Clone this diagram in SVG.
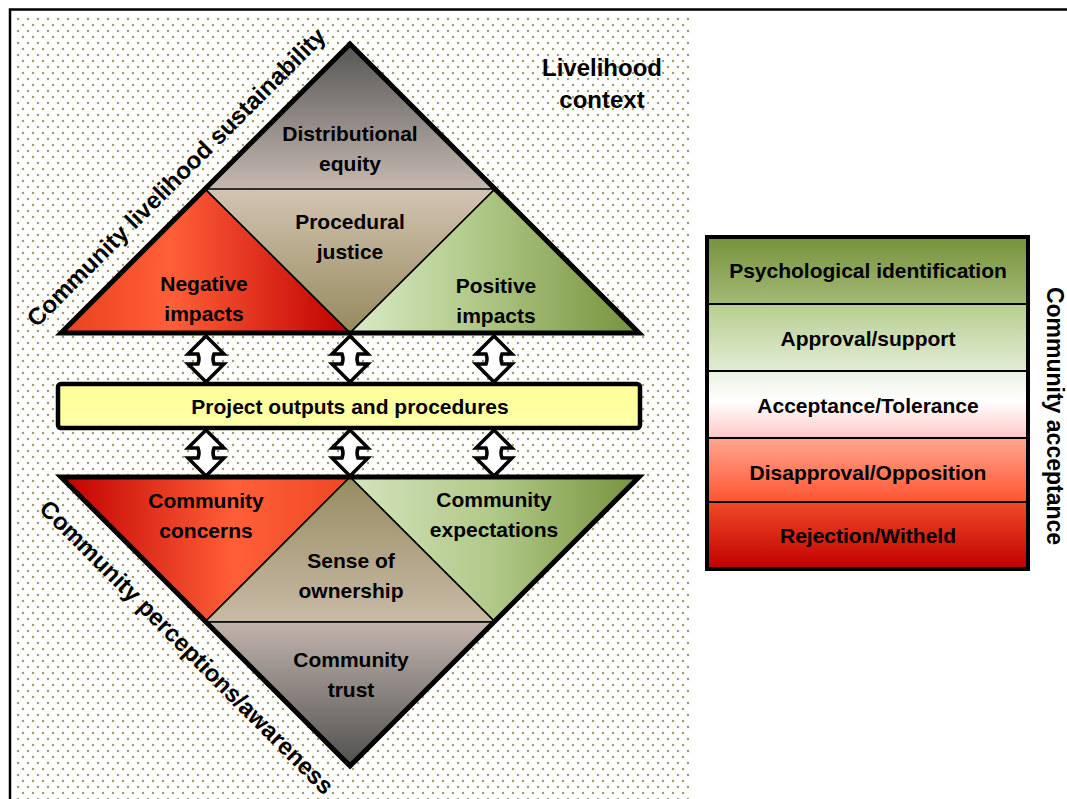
<svg xmlns="http://www.w3.org/2000/svg" width="1067" height="799" viewBox="0 0 1067 799">
<style>
.t{font-family:"Liberation Sans",Arial,sans-serif;font-weight:bold;font-size:21px;fill:#000;text-anchor:middle}
.big{font-size:24px}
.side{font-size:23px}
.lg{font-size:21px}
.outer{stroke:#000;stroke-width:5;stroke-linejoin:miter;fill:none}
.inner{stroke:#000;stroke-width:1.6;stroke-linejoin:miter}
.arr{fill:#fff;stroke:#000;stroke-width:3.5;stroke-linejoin:miter}
.row{stroke:#000;stroke-width:2}
</style>
<defs>
<pattern id="dots" width="10" height="12" patternUnits="userSpaceOnUse" x="16" y="17">
<circle cx="2" cy="2" r="1.25" fill="#a29c6e"/>
<circle cx="7" cy="8" r="1.25" fill="#a29c6e"/>
</pattern>
<linearGradient id="gDist" x1="0" y1="0" x2="0" y2="1"><stop offset="0" stop-color="#555555"/><stop offset="1" stop-color="#c6b8b0"/></linearGradient>
<linearGradient id="gProc" x1="0" y1="0" x2="0" y2="1"><stop offset="0" stop-color="#d2c4b2"/><stop offset="1" stop-color="#958a5c"/></linearGradient>
<linearGradient id="gOwn" x1="0" y1="0" x2="0" y2="1"><stop offset="0" stop-color="#968c60"/><stop offset="1" stop-color="#c9baa6"/></linearGradient>
<linearGradient id="gTrust" x1="0" y1="0" x2="0" y2="1"><stop offset="0" stop-color="#c2b4ac"/><stop offset="1" stop-color="#505050"/></linearGradient>
<linearGradient id="gNeg" x1="0" y1="0" x2="1" y2="0"><stop offset="0" stop-color="#e8401e"/><stop offset="0.38" stop-color="#ff5f38"/><stop offset="1" stop-color="#c00000"/></linearGradient>
<linearGradient id="gPos" x1="0" y1="0" x2="1" y2="0"><stop offset="0" stop-color="#dbeac8"/><stop offset="0.4" stop-color="#b4cc8c"/><stop offset="1" stop-color="#76923c"/></linearGradient>
<linearGradient id="gCon" x1="0" y1="0" x2="1" y2="0"><stop offset="0" stop-color="#c00000"/><stop offset="0.6" stop-color="#ff5f38"/><stop offset="1" stop-color="#ee4824"/></linearGradient>
<linearGradient id="gExp" x1="0" y1="0" x2="1" y2="0"><stop offset="0" stop-color="#d4e4bc"/><stop offset="0.5" stop-color="#b0c888"/><stop offset="1" stop-color="#76923c"/></linearGradient>
<linearGradient id="gBox" x1="0" y1="0" x2="0" y2="1"><stop offset="0" stop-color="#ffff99"/><stop offset="1" stop-color="#ffffa8"/></linearGradient>
<linearGradient id="gL1" x1="0" y1="0" x2="0" y2="1"><stop offset="0" stop-color="#76923c"/><stop offset="1" stop-color="#a3ba74"/></linearGradient>
<linearGradient id="gL2" x1="0" y1="0" x2="0" y2="1"><stop offset="0" stop-color="#b6ce90"/><stop offset="1" stop-color="#e2ecd4"/></linearGradient>
<linearGradient id="gL3" x1="0" y1="0" x2="0" y2="1"><stop offset="0" stop-color="#eaf1e2"/><stop offset="0.45" stop-color="#ffffff"/><stop offset="1" stop-color="#ffc8c4"/></linearGradient>
<linearGradient id="gL4" x1="0" y1="0" x2="0" y2="1"><stop offset="0" stop-color="#ffa690"/><stop offset="1" stop-color="#ff5530"/></linearGradient>
<linearGradient id="gL5" x1="0" y1="0" x2="0" y2="1"><stop offset="0" stop-color="#f04a28"/><stop offset="1" stop-color="#c00000"/></linearGradient>
</defs>

<rect x="0" y="0" width="1067" height="799" fill="#fff"/>
<rect x="16" y="17" width="674" height="782" fill="url(#dots)"/>
<path d="M10 799 V9.5 H1067" fill="none" stroke="#000" stroke-width="2.5"/>

<g id="label-sustainability"><text class="t big" transform="translate(182,183) rotate(-45)">Community livelihood sustainability</text></g>
<g id="label-perceptions"><text class="t big" transform="translate(181,653) rotate(45)">Community perceptions/awareness</text></g>
<g id="label-context"><text class="t big" x="602" y="76">Livelihood</text><text class="t big" x="602" y="108">context</text></g>

<g id="node-distributional">
<polygon points="350,44 205,189 495,189" fill="url(#gDist)"/>
<text class="t" x="350" y="141">Distributional</text><text class="t" x="350" y="171">equity</text>
</g>
<g id="node-procedural">
<polygon class="inner" points="205,189 495,189 350,333" fill="url(#gProc)"/>
<text class="t" x="350" y="229">Procedural</text><text class="t" x="350" y="259">justice</text>
</g>
<g id="node-negative">
<polygon class="inner" points="205,189 61,333 350,333" fill="url(#gNeg)"/>
<text class="t" x="204" y="291">Negative</text><text class="t" x="204" y="321">impacts</text>
</g>
<g id="node-positive">
<polygon class="inner" points="495,189 350,333 639,333" fill="url(#gPos)"/>
<text class="t" x="496" y="293">Positive</text><text class="t" x="496" y="323">impacts</text>
</g>
<polygon class="outer" points="350,44 639,333 61,333"/>

<g id="node-project">
<rect x="58" y="384" width="582" height="44" rx="3" fill="url(#gBox)" stroke="#000" stroke-width="4.5"/>
<text class="t" x="350" y="414">Project outputs and procedures</text>
</g>

<g id="node-concerns">
<polygon class="inner" points="61,477 350,477 205,622" fill="url(#gCon)"/>
<text class="t" x="206" y="508">Community</text><text class="t" x="206" y="538">concerns</text>
</g>
<g id="node-expectations">
<polygon class="inner" points="350,477 639,477 495,622" fill="url(#gExp)"/>
<text class="t" x="494" y="507">Community</text><text class="t" x="494" y="537">expectations</text>
</g>
<g id="node-ownership">
<polygon class="inner" points="350,477 205,622 495,622" fill="url(#gOwn)"/>
<text class="t" x="351" y="568">Sense of</text><text class="t" x="351" y="598">ownership</text>
</g>
<g id="node-trust">
<polygon class="inner" points="205,622 495,622 350,766" fill="url(#gTrust)"/>
<text class="t" x="351" y="667">Community</text><text class="t" x="351" y="697">trust</text>
</g>
<polygon class="outer" points="61,477 639,477 350,766"/>

<g id="connectors">
<path class="arr" d="M206 336 L224 354 L214 354 Q212 359 214 364 L224 364 L206 382 L188 364 L198 364 Q200 359 198 354 L188 354 Z"/>
<path class="arr" d="M350 336 L368 354 L358 354 Q356 359 358 364 L368 364 L350 382 L332 364 L342 364 Q344 359 342 354 L332 354 Z"/>
<path class="arr" d="M494 336 L512 354 L502 354 Q500 359 502 364 L512 364 L494 382 L476 364 L486 364 Q488 359 486 354 L476 354 Z"/>
<path class="arr" d="M206 430 L224 448 L214 448 Q212 453 214 458 L224 458 L206 476 L188 458 L198 458 Q200 453 198 448 L188 448 Z"/>
<path class="arr" d="M350 430 L368 448 L358 448 Q356 453 358 458 L368 458 L350 476 L332 458 L342 458 Q344 453 342 448 L332 448 Z"/>
<path class="arr" d="M494 430 L512 448 L502 448 Q500 453 502 458 L512 458 L494 476 L476 458 L486 458 Q488 453 486 448 L476 448 Z"/>
</g>

<g id="legend">
<g id="legend-psych"><rect class="row" x="707" y="237" width="321" height="67" fill="url(#gL1)"/><text class="t lg" x="868" y="278">Psychological identification</text></g>
<g id="legend-approval"><rect class="row" x="707" y="304" width="321" height="67" fill="url(#gL2)"/><text class="t lg" x="868" y="346">Approval/support</text></g>
<g id="legend-acceptance"><rect class="row" x="707" y="371" width="321" height="67" fill="url(#gL3)"/><text class="t lg" x="868" y="413">Acceptance/Tolerance</text></g>
<g id="legend-disapproval"><rect class="row" x="707" y="438" width="321" height="64" fill="url(#gL4)"/><text class="t lg" x="868" y="480">Disapproval/Opposition</text></g>
<g id="legend-rejection"><rect class="row" x="707" y="502" width="321" height="67" fill="url(#gL5)"/><text class="t lg" x="868" y="543">Rejection/Witheld</text></g>
<rect x="707" y="237" width="321" height="332" fill="none" stroke="#000" stroke-width="4"/>
</g>
<g id="label-acceptance"><text class="t side" transform="translate(1047,416) rotate(90)">Community acceptance</text></g>
</svg>
